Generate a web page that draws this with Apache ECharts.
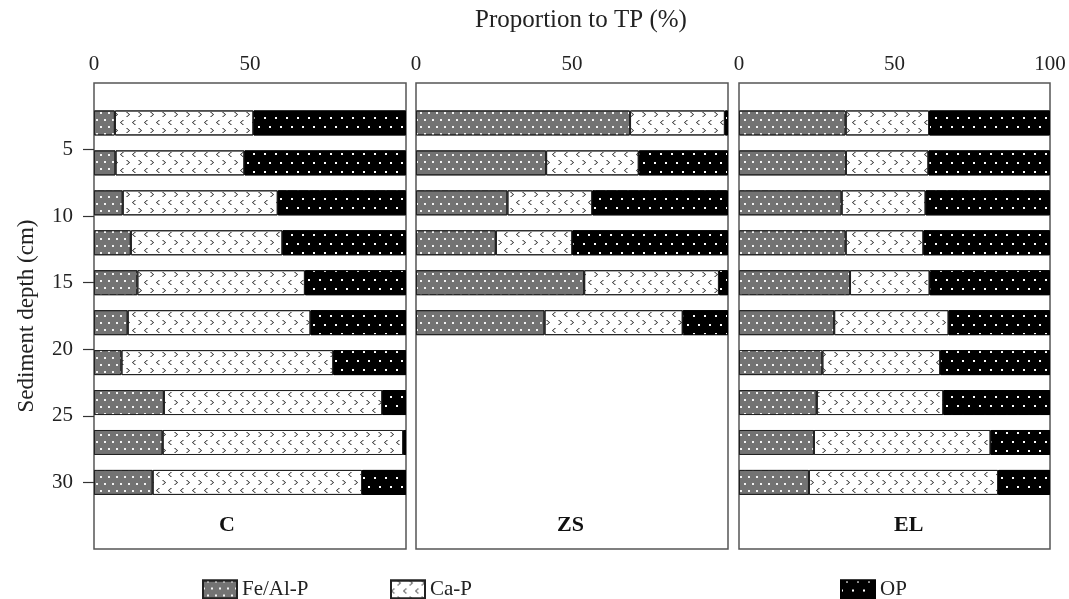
<!DOCTYPE html>
<html>
<head>
<meta charset="utf-8">
<script src="https://cdn.jsdelivr.net/npm/echarts@6/dist/echarts.min.js"></script>
<style>html,body{margin:0;padding:0;background:#fff;}#chart{width:1069px;height:599px;}</style>
</head>
<body>
<div id="chart"></div>
<script>
// ---- data ----
const depthAxis = ['0','1','2','3','4','5','6','7','8','9','10','11','12','13','14','15','16','17','18','19','20','21','22','23','24','25','26','27','28','29','30','31','32','33','34','35'];
const depthLabels = ['5','10','15','20','25','30'];
const depths = ['3','6','9','12','15','18','21','24','27','30'];
const depthsZS = ['3','6','9','12','15','18'];
const xTicks = [0, 50, 100];
const panels = ['C', 'ZS', 'EL'];
const fractions = ['Fe/Al-P', 'Ca-P', 'OP'];

const cFe = [6.7, 6.9, 9.2, 11.8, 13.9, 10.8, 8.8, 22.4, 22.0, 18.8];
const cCa = [44.4, 41.3, 49.7, 48.6, 53.7, 58.6, 67.9, 70.0, 77.1, 67.1];
const cOP = [48.9, 51.8, 41.1, 39.6, 32.4, 30.6, 23.3, 7.6, 0.9, 14.1];

const zsFe = [68.6, 41.7, 29.3, 25.6, 53.9, 41.2];
const zsCa = [30.4, 29.7, 27.2, 24.5, 43.2, 44.3];
const zsOP = [1.0, 28.6, 43.5, 49.9, 2.9, 14.5];

const elFe = [34.3, 34.4, 33.0, 34.3, 35.7, 30.6, 26.8, 25.0, 24.1, 22.5];
const elCa = [26.8, 26.5, 27.0, 25.0, 25.6, 36.8, 37.9, 40.7, 56.8, 60.8];
const elOP = [38.9, 39.1, 40.0, 40.7, 38.7, 32.6, 35.3, 34.3, 19.1, 16.7];

const panelData = [
  { depth: depths, vals: [cFe, cCa, cOP] },
  { depth: depthsZS, vals: [zsFe, zsCa, zsOP] },
  { depth: depths, vals: [elFe, elCa, elOP] }
];

// ---- styles ----
const FONT = 'Liberation Serif';
const chevL = 'path://M7.5,0 L10,0 L3,5 L10,10 L7.5,10 L0.5,5 Z';
const chevR = 'path://M2.5,0 L0,0 L7,5 L0,10 L2.5,10 L9.5,5 Z';
const styles = {
  'Fe/Al-P': { color: '#737373', borderColor: '#222', borderWidth: 1,
    decal: { symbol: 'rect', symbolSize: 1, color: '#f4f4f4', dashArrayX: [[2, 6], [0, 4, 2, 2]], dashArrayY: [2, 5] } },
  'Ca-P': { color: '#ffffff', borderColor: '#222', borderWidth: 1,
    decal: { symbol: [[chevL], [chevR]], symbolSize: 1, symbolKeepAspect: false, color: '#111',
      dashArrayX: [[4, 8], [0, 6, 4, 2]], dashArrayY: [5, 3] } },
  'OP': { color: '#000000', borderColor: '#000', borderWidth: 1,
    decal: { symbol: 'rect', symbolSize: 1, color: '#ffffff', dashArrayX: [[1.5, 8.5], [0, 5, 1.5, 3.5]], dashArrayY: [1.5, 6.5] } }
};

const gridPos = [ { left: 94, width: 312 }, { left: 416, width: 312 }, { left: 739, width: 311 } ];

const grids = gridPos.map(g => ({ left: g.left, width: g.width, top: 83, height: 466, show: true,
  borderColor: '#555', borderWidth: 1.5, backgroundColor: 'transparent', containLabel: false }));

const xAxes = gridPos.map((g, i) => ({
  type: 'value', gridIndex: i, position: 'top', min: 0, max: 100, interval: 50,
  axisLine: { show: false }, axisTick: { show: false }, splitLine: { show: false },
  axisLabel: { fontFamily: FONT, fontSize: 21, color: '#222', margin: 8,
    formatter: v => (i < 2 && v === 100) ? '' : (xTicks.indexOf(v) >= 0 ? String(v) : '') }
}));

const yAxes = gridPos.map((g, i) => ({
  type: 'category', gridIndex: i, data: depthAxis, inverse: true, boundaryGap: false,
  axisLine: { show: false },
  axisTick: { show: i === 0, length: 11, lineStyle: { color: '#333', width: 1.2 },
    interval: (idx, val) => depthLabels.indexOf(val) >= 0 },
  axisLabel: { show: i === 0, fontFamily: FONT, fontSize: 21, color: '#222', margin: 21,
    interval: (idx, val) => depthLabels.indexOf(val) >= 0 },
  splitLine: { show: false },
  name: i === 0 ? 'Sediment depth (cm)' : '', nameLocation: 'middle', nameGap: 56, nameRotate: 90,
  nameTextStyle: { fontFamily: FONT, fontSize: 23, color: '#222' }
}));

const series = [];
panelData.forEach((p, pi) => {
  fractions.forEach((f, fi) => {
    series.push({
      type: 'bar', name: f, xAxisIndex: pi, yAxisIndex: pi, stack: 'panel' + pi,
      barWidth: 25, itemStyle: styles[f],
      data: p.vals[fi].map((v, k) => [v, p.depth[k]])
    });
  });
});

const legendCommon = { top: 574, itemWidth: 34, itemHeight: 18, itemGap: 10, icon: 'rect',
  textStyle: { fontFamily: FONT, fontSize: 21, color: '#222' } };

const option = {
  backgroundColor: '#fff',
  animation: false,
  title: { text: 'Proportion to TP (%)', left: 576, top: 3, textAlign: 'center',
    textStyle: { fontFamily: FONT, fontSize: 25, fontWeight: 'normal', color: '#222' } },
  grid: grids, xAxis: xAxes, yAxis: yAxes, series: series,
  legend: [
    Object.assign({}, legendCommon, { left: 197, data: ['Fe/Al-P'] }),
    Object.assign({}, legendCommon, { left: 385, data: ['Ca-P'] }),
    Object.assign({}, legendCommon, { left: 835, data: ['OP'] })
  ],
  graphic: [
    { type: 'text', left: 219, top: 514, style: { text: panels[0], font: 'bold 22px "Liberation Serif"', fill: '#111' } },
    { type: 'text', left: 557, top: 514, style: { text: panels[1], font: 'bold 22px "Liberation Serif"', fill: '#111' } },
    { type: 'text', left: 894, top: 514, style: { text: panels[2], font: 'bold 22px "Liberation Serif"', fill: '#111' } }
  ]
};

const chart = echarts.init(document.getElementById('chart'), null, { renderer: 'canvas' });
chart.setOption(option);
</script>
</body>
</html>
